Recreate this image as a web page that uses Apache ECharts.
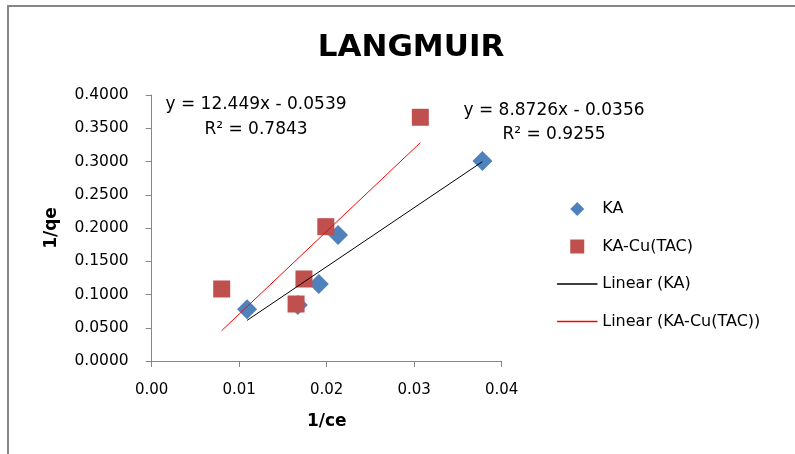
<!DOCTYPE html>
<html>
<head>
<meta charset="utf-8">
<script src="https://cdn.jsdelivr.net/npm/echarts@6/dist/echarts.min.js"></script>
<style>
html,body{margin:0;padding:0;background:#fff;}
#c{width:795px;height:454px;}
</style>
</head>
<body>
<div id="c"></div>
<script>
// ---- data ----
const kaX = [0.0109, 0.0167, 0.0191, 0.0213, 0.0378];
const kaY = [0.0777, 0.0842, 0.1158, 0.1895, 0.3008];
const cuX = [0.0080, 0.0165, 0.0174, 0.0199, 0.0307];
const cuY = [0.1083, 0.0857, 0.1233, 0.2020, 0.3665];
const kaFit = [8.8726, -0.0356];   // slope, intercept
const cuFit = [12.449, -0.0539];
const kaEq = ['y = 8.8726x - 0.0356', 'R² = 0.9255'];
const cuEq = ['y = 12.449x - 0.0539', 'R² = 0.7843'];
const seriesNames = ['KA', 'KA-Cu(TAC)', 'Linear (KA)', 'Linear (KA-Cu(TAC))'];
const xTicks = [0, 0.04, 0.01];
const yTicks = [0, 0.4, 0.05];

const pts = (xs, ys) => xs.map((x, i) => [x, ys[i]]);
const trend = (xs, fit) => {
  const lo = Math.min(...xs), hi = Math.max(...xs);
  return [[lo, fit[0] * lo + fit[1]], [hi, fit[0] * hi + fit[1]]];
};

const FONT = 'DejaVu Sans';
const ICON_DIAMOND = 'path://M0,-1L1,0L0,1L-1,0Z';
const ICON_SQUARE = 'path://M0,0H1V1H0Z';
const ICON_LINE = 'path://M0,0H40V1H0Z';
const C_KA = '#4F81BD', C_CU = '#C0504D', C_LKA = '#000000', C_LCU = '#FF0000';

const lineLegend = (name, c) => ({
  name: name, icon: ICON_LINE,
  itemStyle: {color: c, borderColor: c, borderWidth: 0.5},
  lineStyle: {color: c, width: 1}
});

const chart = echarts.init(document.getElementById('c'), null, {renderer: 'canvas'});
chart.setOption({
  backgroundColor: '#fff',
  animation: false,
  title: {
    text: 'LANGMUIR',
    left: 406, top: 27, textAlign: 'center',
    textStyle: {fontFamily: FONT, fontWeight: 'bold', fontSize: 31, color: '#000'}
  },
  grid: {left: 151.7, right: 293.3, top: 95, bottom: 93, containLabel: false},
  xAxis: {
    type: 'value', min: xTicks[0], max: xTicks[1], interval: xTicks[2],
    name: '1/ce', nameLocation: 'middle', nameGap: 52,
    nameTextStyle: {fontFamily: FONT, fontWeight: 'bold', fontSize: 17, color: '#000'},
    axisLine: {show: true, onZero: false, lineStyle: {color: '#868686', width: 1}},
    axisTick: {show: true, inside: false, length: 6, lineStyle: {color: '#868686'}},
    axisLabel: {margin: 22, fontFamily: FONT, fontSize: 15, color: '#000', formatter: v => v.toFixed(2)},
    splitLine: {show: false}
  },
  yAxis: {
    type: 'value', min: yTicks[0], max: yTicks[1], interval: yTicks[2],
    name: '1/qe', nameLocation: 'middle', nameGap: 92, nameRotate: 90,
    nameTextStyle: {fontFamily: FONT, fontWeight: 'bold', fontSize: 17, color: '#000'},
    axisLine: {show: true, onZero: false, lineStyle: {color: '#868686', width: 1}},
    axisTick: {show: true, inside: false, length: 6, lineStyle: {color: '#868686'}},
    axisLabel: {margin: 23, fontFamily: FONT, fontSize: 15.5, color: '#000', formatter: v => v.toFixed(4)},
    splitLine: {show: false}
  },
  legend: {
    orient: 'vertical', left: 557, top: 201, padding: 0,
    itemWidth: 40, itemHeight: 14, itemGap: 21.5,
    symbolKeepAspect: true,
    textStyle: {fontFamily: FONT, fontSize: 16, color: '#000'},
    data: [
      {name: seriesNames[0], icon: ICON_DIAMOND, itemStyle: {color: C_KA}},
      {name: seriesNames[1], icon: ICON_SQUARE, itemStyle: {color: C_CU}},
      lineLegend(seriesNames[2], C_LKA),
      lineLegend(seriesNames[3], C_LCU)
    ]
  },
  series: [
    {name: seriesNames[0], type: 'scatter', symbol: 'diamond', symbolSize: 20,
     itemStyle: {color: C_KA, opacity: 1}, data: pts(kaX, kaY), z: 2},
    {name: seriesNames[1], type: 'scatter', symbol: 'rect', symbolSize: 17,
     itemStyle: {color: C_CU, opacity: 1}, data: pts(cuX, cuY), z: 3},
    {name: seriesNames[2], type: 'line', symbol: 'none', color: C_LKA, lineStyle: {color: C_LKA, width: 1},
     itemStyle: {color: C_LKA, borderColor: C_LKA}, data: trend(kaX, kaFit), z: 4},
    {name: seriesNames[3], type: 'line', symbol: 'none', color: C_LCU, lineStyle: {color: C_LCU, width: 1},
     itemStyle: {color: C_LCU, borderColor: C_LCU}, data: trend(cuX, cuFit), z: 4}
  ],
  graphic: [
    {type: 'rect', shape: {x: 8, y: 6, width: 900, height: 600}, silent: true, z: -10,
     style: {fill: 'none', stroke: '#868686', lineWidth: 2}},
    {type: 'text', x: 256, y: 105, style: {text: cuEq[0], textAlign: 'center', textVerticalAlign: 'middle', font: '17px "DejaVu Sans"', fill: '#000'}},
    {type: 'text', x: 256, y: 130, style: {text: cuEq[1], textAlign: 'center', textVerticalAlign: 'middle', font: '17px "DejaVu Sans"', fill: '#000'}},
    {type: 'text', x: 554, y: 111, style: {text: kaEq[0], textAlign: 'center', textVerticalAlign: 'middle', font: '17px "DejaVu Sans"', fill: '#000'}},
    {type: 'text', x: 554, y: 135, style: {text: kaEq[1], textAlign: 'center', textVerticalAlign: 'middle', font: '17px "DejaVu Sans"', fill: '#000'}}
  ]
});
</script>
</body>
</html>
